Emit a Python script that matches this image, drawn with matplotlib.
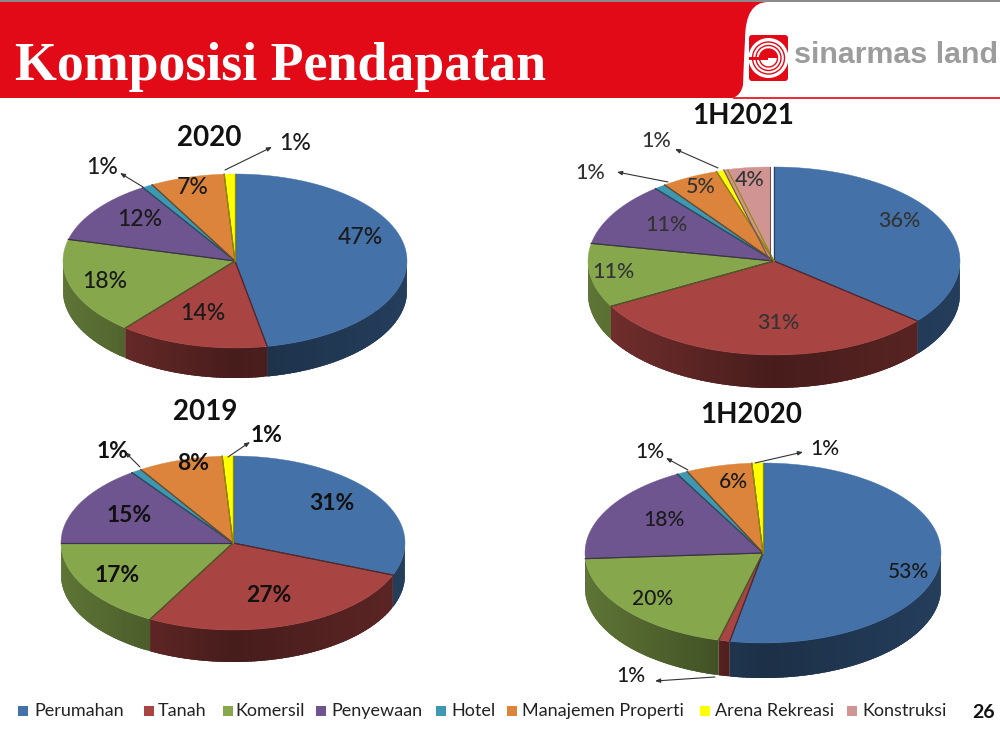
import numpy as np
import matplotlib
matplotlib.use("Agg")
import matplotlib.pyplot as plt
from matplotlib.patches import Polygon, Rectangle, FancyBboxPatch, Arc, Wedge, PathPatch
from matplotlib.path import Path

categories = ["Perumahan", "Tanah", "Komersil", "Penyewaan", "Hotel",
              "Manajemen Properti", "Arena Rekreasi", "Konstruksi"]
colors = ["#4371a8", "#a84442", "#87a74d", "#6f5590", "#3f98b2", "#dc843c", "#ffff00", "#d09492"]

# order follows categories
values_2020 = [47, 14, 18, 12, 1, 7, 1, 0]
values_1h2021 = [36, 31, 11, 11, 1, 5, 1, 4]
values_2019 = [31, 27, 17, 15, 1, 8, 1, 0]
values_1h2020 = [53, 1, 20, 18, 1, 6, 1, 0]

# cx, cy, rx, ry, depth
charts = [
    dict(title="2020", values=values_2020, geom=(235, 261, 172, 87, 30), title_xy=(209, 138),
         labels={0: (360, 238), 1: (203, 314), 2: (105, 282), 3: (140, 220), 5: (193, 188)},
         leaders=[(143, 187, 120, 173, 102, 168), (225, 170, 272, 147, 295, 144)], fs=16.5, lc="#1a1a1a", w="medium"),
    dict(title="1H2021", values=values_1h2021, geom=(774, 261, 186, 94, 33), title_xy=(743, 116),
         labels={0: (899, 221), 1: (778, 323), 2: (613, 272), 3: (666, 225), 5: (701, 187), 7: (750, 180)},
         leaders=[(668, 182, 617, 172, 590, 173), (718, 168, 675, 149, 656, 141)], fs=15.5, lc="#333333", w="medium"),
    dict(title="2019", values=values_2019, geom=(233, 543, 172, 87, 32), title_xy=(205, 412),
         labels={0: (332, 503), 1: (269, 595), 2: (117, 575), 3: (129, 515), 5: (193, 464)},
         leaders=[(140, 467, 125, 452, 113, 451), (228, 457, 250, 442, 267, 436)], fs=16.5, lc="#111111", w="bold"),
    dict(title="1H2020", values=values_1h2020, geom=(763, 553, 178, 90, 35), title_xy=(751, 415),
         labels={0: (908, 572), 2: (653, 599), 3: (664, 520), 5: (733, 482)},
         leaders=[(688, 470, 666, 458, 650, 452), (755, 463, 803, 452, 825, 449), (715, 677, 655, 681, 631, 676)],
         fs=15, lc="#1a1a1a", w="medium"),
]

legend_sq = [18, 144, 223, 316, 436, 507, 700, 847]
legend_tx = [34, 158, 235, 331, 451, 522, 715, 862]

plt.rcParams["font.family"] = ["Lato", "DejaVu Sans"]
fig = plt.figure(figsize=(10, 7.33), dpi=100)
ax = fig.add_axes([0, 0, 1, 1])
ax.set_xlim(0, 1000)
ax.set_ylim(733, 0)
ax.axis("off")


def shade(c, f):
    return tuple(np.array(matplotlib.colors.to_rgb(c)) * f)


def draw_pie(values, geom):
    cx, cy, rx, ry, depth = geom
    vals = np.array(values, dtype=float)
    edges = np.concatenate([[0], np.cumsum(vals) / vals.sum() * 2 * np.pi])
    # side wall first, strips overlap the next one so no seams show
    for i, v in enumerate(vals):
        if v == 0:
            continue
        a0, a1 = edges[i], edges[i + 1]
        lo, hi = max(a0, np.pi / 2), min(a1, 3 * np.pi / 2)
        if hi <= lo:
            continue
        steps = np.linspace(lo, hi, max(2, int((hi - lo) * 50)))
        for s0, s1 in zip(steps[:-1], steps[1:]):
            mid = (s0 + s1) / 2
            f = 0.42 + 0.28 * abs(np.sin(mid)) * (1 if mid > np.pi else 0.45)
            arc = np.linspace(s0, min(s1 + 0.03, hi), 5)
            x = cx + rx * np.sin(arc)
            y = cy - ry * np.cos(arc)
            pts = np.r_[np.column_stack([x, y]), np.column_stack([x, y + depth])[::-1]]
            ax.add_patch(Polygon(pts, fc=shade(colors[i], f), ec="none", zorder=2))
    # top surface
    for i, v in enumerate(vals):
        if v == 0:
            continue
        t = np.linspace(edges[i], edges[i + 1], max(3, int(v * 3)))
        px = cx + rx * np.sin(t)
        py = cy - ry * np.cos(t)
        dx = -4 if categories[i] == "Konstruksi" else 0
        pts = np.column_stack([np.r_[cx, px], np.r_[cy, py]]) + [dx, 0]
        ax.add_patch(Polygon(pts, fc=colors[i], ec=colors[i], lw=0.3, zorder=3))
        # radial edges only, the outer rim has no outline
        for e in (t[0], t[-1]):
            ax.plot([cx + dx, cx + dx + rx * np.sin(e)], [cy, cy - ry * np.cos(e)],
                    color=shade(colors[i], 0.55), lw=0.8, zorder=3.5)


for ch in charts:
    draw_pie(ch["values"], ch["geom"])
    ax.text(*ch["title_xy"], ch["title"], fontsize=20, fontweight="bold", color="#111111",
            ha="center", va="center", zorder=6)
    for i, xy in ch["labels"].items():
        ax.text(*xy, f"{ch['values'][i]}%", fontsize=ch["fs"], color=ch["lc"], ha="center", va="center",
                fontweight=ch["w"], zorder=6)
    for x0, y0, x1, y1, tx, ty in ch["leaders"]:
        ax.annotate("", xy=(x1, y1), xytext=(x0, y0), zorder=6,
                    arrowprops=dict(arrowstyle="-|>,head_width=0.12,head_length=0.3", color="#333333", lw=0.8,
                                    shrinkA=0, shrinkB=0))
        ax.text(tx, ty, "1%", fontsize=ch["fs"], color=ch["lc"], ha="center", va="center",
                fontweight=ch["w"], zorder=6)

# header band with the white rounded tab
ax.add_patch(Rectangle((0, 2), 1000, 96, fc="#e30a17", ec="none", zorder=1))
ax.add_patch(Rectangle((0, 0), 1000, 2, fc="#8a8a8a", ec="none", zorder=1))
tab = Path([(733, 98), (741, 95), (743, 85), (744, 60), (745, 40), (745, 2), (768, 2),
            (1000, 2), (1000, 98), (733, 98)],
           [Path.MOVETO, Path.CURVE3, Path.CURVE3, Path.LINETO, Path.LINETO, Path.CURVE3, Path.CURVE3,
            Path.LINETO, Path.LINETO, Path.CLOSEPOLY])
ax.add_patch(PathPatch(tab, fc="white", ec="none", zorder=1.1))
ax.add_patch(Rectangle((733, 97), 267, 1.6, fc="#e8303a", ec="none", zorder=1.3))
ax.text(15, 67, "Komposisi Pendapatan", family="Liberation Serif", fontweight="bold", fontsize=38.8,
        color="white", va="center", ha="left", zorder=5)

# logo
ax.add_patch(FancyBboxPatch((749, 35), 39, 46, boxstyle="round,pad=0,rounding_size=3",
                            fc="#e30a17", ec="none", zorder=4))
ax.add_patch(Wedge((768.5, 58), 20, 0, 360, fc="white", ec="none", zorder=4.5))
for d in (32, 25, 18):
    ax.add_patch(Arc((768.5, 58), d, d, theta1=0, theta2=360, ec="#e30a17", lw=1.0, zorder=5))
ax.add_patch(Wedge((768.5, 58), 9, 180, 360, fc="#e30a17", ec="none", zorder=6))
ax.add_patch(Rectangle((749, 57), 19, 3, fc="#e30a17", ec="none", zorder=5))
ax.text(794, 55, "sinarmas land", family="Liberation Sans", fontweight="bold", fontsize=21.9, color="#9c9c9c",
        va="center", ha="left", zorder=5)

# legend along the bottom
for name, c, sx, tx in zip(categories, colors, legend_sq, legend_tx):
    ax.add_patch(Rectangle((sx, 706), 9.5, 10, fc=c, ec="none", zorder=4))
    ax.text(tx, 711, name, fontsize=13, color="#222222", va="center", ha="left", zorder=4)
ax.text(984, 712, "26", fontsize=14, fontweight="bold", color="#111111", va="center", ha="center", zorder=4)

fig.savefig("out.png", dpi=100)
